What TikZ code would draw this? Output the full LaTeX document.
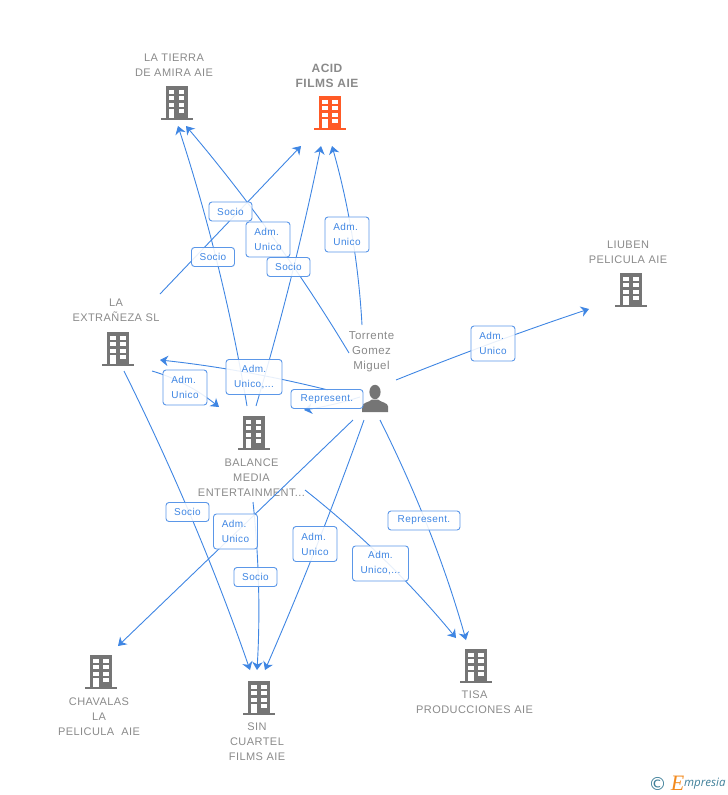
\documentclass[tikz,border=0pt]{standalone}
\usepackage{fontspec}
\setmainfont[LetterSpace=4]{Liberation Sans}
\newfontfamily\logofont{Open Sans}
\newfontfamily\copyfont{DejaVu Sans}
\newfontfamily\markfont{Liberation Serif}
\usetikzlibrary{arrows.meta,calc}
\definecolor{linkblue}{HTML}{3F86E3}
\definecolor{boxblue}{HTML}{5B97E8}
\definecolor{namegray}{HTML}{8A8A8A}
\definecolor{icongray}{HTML}{757575}
\definecolor{iconred}{HTML}{FF5A26}
\definecolor{logoteal}{HTML}{3F7F99}
\definecolor{logoorange}{HTML}{F28A1E}
\newcommand{\bentlink}[3]{\draw[link,->] (#1) .. controls ($(#1)!.667!(#2)$) and ($(#3)!.667!(#2)$) .. (#3);}
\tikzset{
	link/.style={draw=linkblue, line width=0.9pt},
	tag/.style={draw=boxblue, line width=0.9pt, rounded corners=3pt, fill=white, fill opacity=0.88, text opacity=1, text=linkblue, font=\fontsize{10}{15}\selectfont, inner sep=0pt, minimum height=19pt},
	tagtwo/.style={tag, minimum height=35pt, minimum width=44pt, align=left},
	tagwide/.style={tag, minimum height=35pt, minimum width=56pt, align=center},
	firmname/.style={text=namegray, align=center, inner sep=0pt, font=\fontsize{11}{15}\selectfont},
	pics/building/.style={code={
		\fill[#1] (-11,-17) rectangle (11,16);
		\fill[#1] (-16,15) rectangle (16,17);
		\foreach \y in {-13.5,-7,-0.5}{
			\fill[white] (-7.8,\y) rectangle (-2.3,\y+4.4);
			\fill[white] (2.3,\y) rectangle (7.8,\y+4.4);
		}
		\fill[white] (-7.8,6) rectangle (-2.3,15);
		\fill[white] (2.3,6) rectangle (7.8,10.4);
	}},
	pics/person/.style={code={
		\fill[#1] (0,-6.5) ellipse (5.6 and 7.2);
		\fill[#1] (-13,13.5) -- (-13,8) .. controls (-13,4) and (-6,4) .. (-3,1) -- (3,1) .. controls (6,4) and (13,4) .. (13,8) -- (13,13.5) -- cycle;
	}}
}
\begin{document}
\begin{tikzpicture}[x=1pt, y=-1pt, line join=round, >={Stealth[length=8pt,width=10.5pt,inset=2.5pt]}]
	\useasboundingbox (0,0) rectangle (728,795);
	% icons and names
	\pic at (176.5,103) {building=icongray};
	\node[firmname] (tierra) at (174,65.5) {LA TIERRA\\DE AMIRA AIE};
	\pic at (330,113) {building=iconred};
	\node[firmname, font=\fontsize{12}{15}\selectfont\bfseries] (acid) at (327,75.5) {ACID\\FILMS AIE};
	\pic at (631,290) {building=icongray};
	\node[firmname] (liuben) at (628,252.5) {LIUBEN\\PELICULA AIE};
	\pic at (118,349) {building=icongray};
	\node[firmname] (extraneza) at (116,310.5) {LA\\EXTRAÑEZA SL};
	\pic at (253.5,433) {building=icongray};
	\node[firmname] (balance) at (251.5,478) {BALANCE\\MEDIA\\ENTERTAINMENT...};
	\pic at (375,398.5) {person=icongray};
	\node[firmname, font=\fontsize{11.5}{15}\selectfont] (torrente) at (371.5,352) {Torrente\\Gomez\\Miguel};
	\pic at (101,672) {building=icongray};
	\node[firmname] (chavalas) at (99,717) {CHAVALAS\\LA\\PELICULA\ \ AIE};
	\pic at (259,698) {building=icongray};
	\node[firmname] (sin) at (257,742) {SIN\\CUARTEL\\FILMS AIE};
	\pic at (476,666) {building=icongray};
	\node[firmname] (tisa) at (474.5,702.5) {TISA\\PRODUCCIONES AIE};
	% connector ends
	\coordinate (s1) at (362,325);   \coordinate (t1) at (332,146);
	\coordinate (s2) at (349,353);   \coordinate (t2) at (186,126);
	\coordinate (s3) at (160,294);   \coordinate (t3) at (301,146);
	\coordinate (s4) at (247,406);   \coordinate (t4) at (178,126);
	\coordinate (s5) at (256,406);   \coordinate (t5) at (321,146);
	\coordinate (s6) at (328,390);   \coordinate (t6) at (160,360);
	\coordinate (s7) at (152,371);   \coordinate (t7) at (219,407);
	\coordinate (s8) at (360,397);   \coordinate (t8) at (304,410);
	\coordinate (s9) at (396,380);   \coordinate (t9) at (589,309);
	\coordinate (s10) at (353,420);  \coordinate (t10) at (118,646);
	\coordinate (s11) at (364,420);  \coordinate (t11) at (265,670);
	\coordinate (s12) at (380,420);  \coordinate (t12) at (466,640);
	\coordinate (s13) at (305,490);  \coordinate (t13) at (456,638);
	\coordinate (s14) at (253,502);  \coordinate (t14) at (257,670);
	\coordinate (s15) at (124,371);  \coordinate (t15) at (250,670);
	% connectors
	\bentlink{s1}{357,234.5}{t1}
	\bentlink{s2}{276.5,232.5}{t2}
	\draw[link,->] (s3) -- (t3);
	\bentlink{s4}{223.5,266}{t4}
	\bentlink{s5}{294.5,276}{t5}
	\bentlink{s6}{244,369}{t6}
	\bentlink{s7}{186.5,381}{t7}
	\bentlink{s8}{335,405}{t8}
	\bentlink{s9}{493,341}{t9}
	\draw[link,->] (s10) -- (t10);
	\bentlink{s11}{319.5,545}{t11}
	\bentlink{s12}{435,530}{t12}
	\bentlink{s13}{388.5,556}{t13}
	\bentlink{s14}{262,586}{t14}
	\bentlink{s15}{198,520}{t15}
	% relation tags
	\node[tag, minimum width=43pt] (socioa) at (230.5,211.5) {Socio};
	\node[tagtwo] (adma) at (268,239.5) {Adm.\\Unico};
	\node[tag, minimum width=43pt] (sociob) at (213,257) {Socio};
	\node[tag, minimum width=43pt] (socioc) at (288.5,267) {Socio};
	\node[tagtwo] (admb) at (347,234.5) {Adm.\\Unico};
	\node[tagtwo] (admc) at (493,343.5) {Adm.\\Unico};
	\node[tagwide] (admd) at (254,377) {Adm.\\Unico,...};
	\node[tagtwo] (adme) at (185,387.5) {Adm.\\Unico};
	\node[tag, minimum width=72pt] (repa) at (327,399) {Represent.};
	\node[tag, minimum width=43pt] (sociod) at (187.5,512) {Socio};
	\node[tagtwo] (admf) at (235.5,531.5) {Adm.\\Unico};
	\node[tag, minimum width=43pt] (socioe) at (255.5,577) {Socio};
	\node[tagtwo] (admg) at (315,544) {Adm.\\Unico};
	\node[tag, minimum width=72pt] (repb) at (424,520.5) {Represent.};
	\node[tagwide] (admh) at (380.5,563.5) {Adm.\\Unico,...};
	% logo
	\node[inner sep=0pt, text=logoteal, font=\copyfont\fontsize{18}{18}\selectfont] (copy) at (657.5,784) {©};
	\node[inner sep=0pt, text=logoorange, font=\markfont\itshape\fontsize{22}{22}\selectfont] (markE) at (677.5,783.5) {E};
	\node[inner sep=0pt, anchor=west, text=logoteal, font=\logofont\itshape\fontsize{11.5}{12}\selectfont] (brand) at (684,784) {mpresia};
\end{tikzpicture}
\end{document}
